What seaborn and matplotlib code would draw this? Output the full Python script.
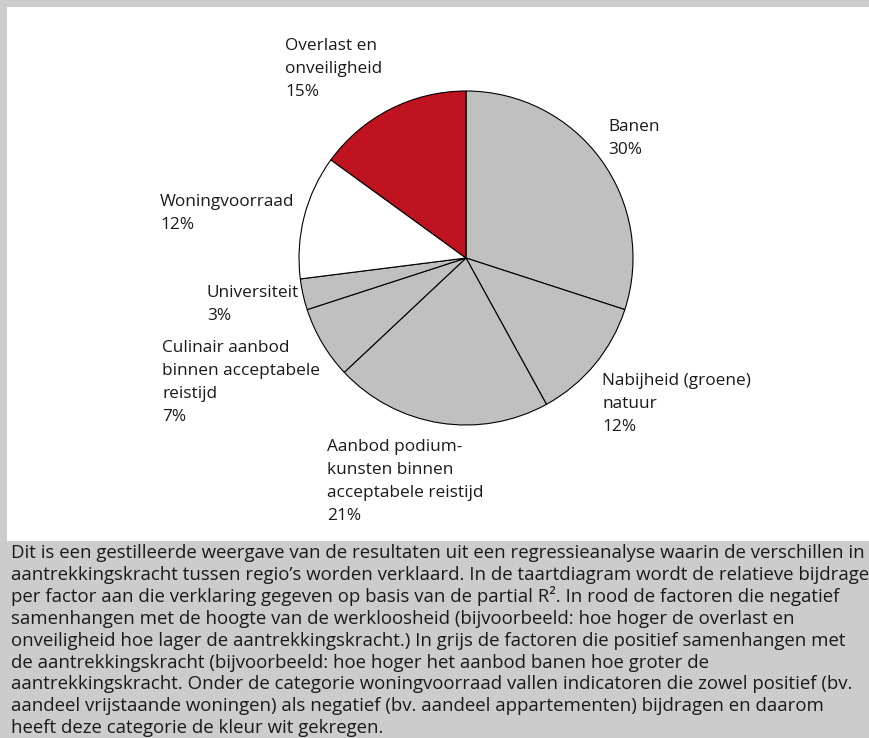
import matplotlib
matplotlib.use("Agg")
import matplotlib.pyplot as plt
import seaborn as sns
from matplotlib.patches import Rectangle

# Relative contribution (partial R²) per factor, clockwise from 12 o'clock
categories = [
    "Banen",
    "Nabijheid (groene)\nnatuur",
    "Aanbod podium-\nkunsten binnen\nacceptabele reistijd",
    "Culinair aanbod\nbinnen acceptabele\nreistijd",
    "Universiteit",
    "Woningvoorraad",
    "Overlast en\nonveiligheid",
]
shares = [30, 12, 21, 7, 3, 12, 15]
effect = ["pos", "pos", "pos", "pos", "pos", "mixed", "neg"]

caption_lines = [
    "Dit is een gestilleerde weergave van de resultaten uit een regressieanalyse waarin de verschillen in",
    "aantrekkingskracht tussen regio’s worden verklaard. In de taartdiagram wordt de relatieve bijdrage",
    "per factor aan die verklaring gegeven op basis van de partial R². In rood de factoren die negatief",
    "samenhangen met de hoogte van de werkloosheid (bijvoorbeeld: hoe hoger de overlast en",
    "onveiligheid hoe lager de aantrekkingskracht.) In grijs de factoren die positief samenhangen met",
    "de aantrekkingskracht (bijvoorbeeld: hoe hoger het aanbod banen hoe groter de",
    "aantrekkingskracht. Onder de categorie woningvoorraad vallen indicatoren die zowel positief (bv.",
    "aandeel vrijstaande woningen) als negatief (bv. aandeel appartementen) bijdragen en daarom",
    "heeft deze categorie de kleur wit gekregen.",
]

sns.set_theme(style="white")
plt.rcParams["font.family"] = ["Open Sans", "DejaVu Sans"]

palette = {"pos": "#c0c0c0", "mixed": "#ffffff", "neg": "#bf1420"}
colors = [palette[e] for e in effect]

W, H = 869, 738
fig = plt.figure(figsize=(W / 100, H / 100), dpi=100, facecolor="#cccccc")

def fx(px):
    return px / W

def fy(py):
    return 1 - py / H

# white chart panel on the grey page, kept beneath the pie axes
fig.patches.append(Rectangle((fx(7), fy(541)), 1 - fx(7), fy(7) - fy(541),
                             transform=fig.transFigure, facecolor="white",
                             edgecolor="none", zorder=-5))

# pie axes
cx, cy, r = 466, 258, 167
pad = 1.02
ax = fig.add_axes([fx(cx - r * pad), fy(cy + r * pad), 2 * r * pad / W, 2 * r * pad / H])
ax.set_zorder(1)
ax.patch.set_alpha(0)
ax.pie(shares, colors=colors, startangle=90, counterclock=False, radius=1,
       wedgeprops=dict(edgecolor="black", linewidth=0.8))
ax.set_xlim(-pad, pad)
ax.set_ylim(-pad, pad)
ax.set_aspect("equal")
ax.axis("off")

# slice labels: left edge and first baseline in pixels
label_pos = [(608, 131), (602, 385), (327, 451), (162, 352), (207, 297), (160, 206), (285, 50)]
label_step = 23
for name, val, (lx, ly) in zip(categories, shares, label_pos):
    lines = f"{name}\n{val}%".split("\n")
    for k, line in enumerate(lines):
        fig.text(fx(lx), fy(ly + k * label_step), line, fontsize=12.4,
                 color="#1a1a1a", ha="left", va="baseline")

# explanatory caption in the grey band
for i, line in enumerate(caption_lines):
    fig.text(fx(11), fy(558 + i * 21.9), line, fontsize=13.45,
             color="#1a1a1a", ha="left", va="baseline")

fig.savefig("out.png", dpi=100, facecolor=fig.get_facecolor())
